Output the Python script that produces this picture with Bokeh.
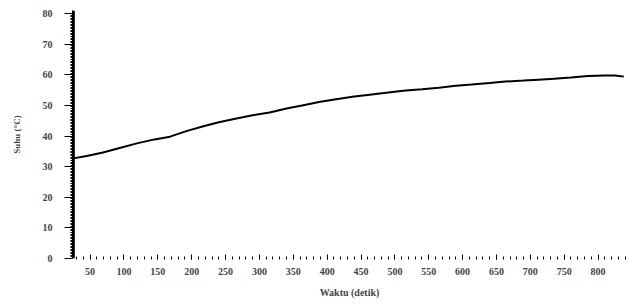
from bokeh.plotting import figure
from bokeh.models import Range1d, FixedTicker, Span
from bokeh.embed import file_html
from bokeh.resources import INLINE

# Data
waktu = [25, 45, 69, 95, 119, 145, 168, 192, 216, 240, 266, 290, 315, 340, 363, 390, 418, 440,
         466, 490, 516, 540, 565, 590, 613, 640, 663, 690, 712, 735, 760, 785, 810, 825, 838]
suhu = [32.7, 33.5, 34.6, 36.2, 37.6, 38.9, 39.8, 41.6, 43.1, 44.5, 45.7, 46.8, 47.7, 49.0, 50.0,
        51.2, 52.2, 52.9, 53.6, 54.2, 54.9, 55.3, 55.8, 56.4, 56.8, 57.3, 57.8, 58.1, 58.4, 58.7,
        59.1, 59.6, 59.8, 59.8, 59.4]
x_ticks = [50, 100, 150, 200, 250, 300, 350, 400, 450, 500, 550, 600, 650, 700, 750, 800]
y_ticks = [0, 10, 20, 30, 40, 50, 60, 70, 80]

FONT = "Liberation Serif"

p = figure(frame_width=554, frame_height=248, output_backend="svg", toolbar_location=None,
           x_range=Range1d(24, 842), y_range=Range1d(0, 81),
           min_border_left=72, min_border_right=2, min_border_top=10, min_border_bottom=0)
p.outline_line_color = None
p.grid.visible = False
p.background_fill_color = "white"
p.border_fill_color = "white"

p.line(waktu, suhu, line_color="black", line_width=2)

# thick vertical line at the left edge
p.add_layout(Span(location=24.5, dimension="height", line_color="black", line_width=4))

xa = p.xaxis[0]
xa.ticker = FixedTicker(ticks=x_ticks, minor_ticks=list(range(30, 841, 10)))
xa.axis_line_color = None
xa.major_tick_in = 4
xa.major_tick_out = 1
xa.minor_tick_in = 2
xa.minor_tick_out = 1
xa.major_label_text_font = FONT
xa.major_label_text_font_style = "bold"
xa.major_label_text_font_size = "10px"
xa.major_label_standoff = 8
xa.axis_label = "Waktu (detik)"
xa.axis_label_text_font = FONT
xa.axis_label_text_font_style = "bold"
xa.axis_label_text_font_size = "10px"
xa.axis_label_standoff = 9

ya = p.yaxis[0]
ya.ticker = FixedTicker(ticks=y_ticks, minor_ticks=[v / 2 for v in range(0, 161)])
ya.axis_line_color = "black"
ya.axis_line_width = 1
ya.major_tick_in = 0
ya.major_tick_out = 8
ya.minor_tick_in = 0
ya.minor_tick_out = 2
ya.major_label_text_font = FONT
ya.major_label_text_font_style = "bold"
ya.major_label_text_font_size = "10px"
ya.major_label_standoff = 12
ya.axis_label = "Suhu (°C)"
ya.axis_label_text_font = FONT
ya.axis_label_text_font_style = "bold"
ya.axis_label_text_font_size = "9px"
ya.axis_label_standoff = 18

open("out.html", "w").write(file_html(p, INLINE))
